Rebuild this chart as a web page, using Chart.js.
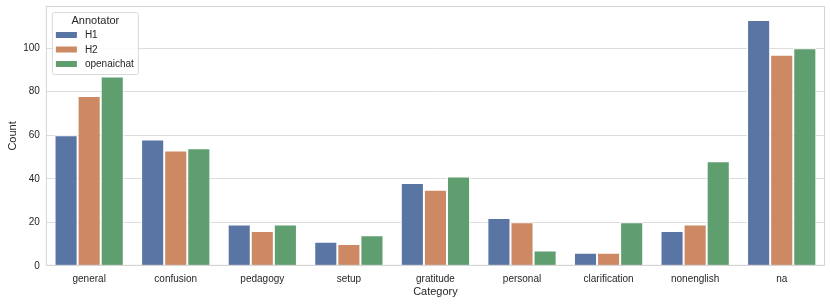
<!DOCTYPE html>
<html>
<head>
<meta charset="utf-8">
<script src="https://cdn.jsdelivr.net/npm/chart.js@4/dist/chart.umd.min.js"></script>
<style>
  html, body { margin: 0; padding: 0; background: #fff; }
  #wrap { width: 831px; height: 304px; }
</style>
</head>
<body>
<div id="wrap"><canvas id="annotChart" width="831" height="304"></canvas></div>
<script>
// Category counts per annotator
const categories = ['general', 'confusion', 'pedagogy', 'setup', 'gratitude', 'personal', 'clarification', 'nonenglish', 'na'];
const h1Counts = [60, 58, 19, 11, 38, 22, 6, 16, 113];
const h2Counts = [78, 53, 16, 10, 35, 20, 6, 19, 97];
const openaiCounts = [87, 54, 19, 14, 41, 7, 20, 48, 100];
const yTicks = [0, 20, 40, 60, 80, 100];

const FONT = '"Liberation Sans", Arial, sans-serif';
const GRID = '#dddddd';

// legend box + frame drawn by hand (seaborn style)
const framePlugin = {
    id: 'frame',
    afterDraw(chart) {
        const { ctx, chartArea: a } = chart;
        ctx.save();
        ctx.strokeStyle = '#d4d4d4';
        ctx.lineWidth = 1;
        ctx.strokeRect(a.left + 0.5, a.top + 0.5, a.right - a.left - 1, a.bottom - a.top - 1);

        // legend
        const x = a.left + 6, y = a.top + 6, w = 86, h = 62;
        ctx.fillStyle = 'rgba(255,255,255,0.85)';
        ctx.strokeStyle = '#d9d9d9';
        ctx.beginPath();
        ctx.roundRect(x + 0.5, y + 0.5, w, h, 2);
        ctx.fill();
        ctx.stroke();
        ctx.fillStyle = '#262626';
        ctx.font = '11px ' + FONT;
        ctx.textAlign = 'center';
        ctx.textBaseline = 'middle';
        ctx.fillText('Annotator', x + w / 2 + 0.5, y + 9);
        ctx.textAlign = 'left';
        ctx.font = '10px ' + FONT;
        chart.data.datasets.forEach((ds, i) => {
            const ry = y + 23 + i * 14.5;
            ctx.fillStyle = ds.backgroundColor;
            ctx.fillRect(x + 4, ry - 3, 21, 6);
            ctx.fillStyle = '#262626';
            ctx.fillText(ds.label, x + 33, ry + 0.5);
        });
        ctx.restore();
    }
};

const ctx = document.getElementById('annotChart').getContext('2d');
const annotChart = new Chart(ctx, {
    type: 'bar',
    data: {
        labels: categories,
        datasets: [
            { label: 'H1', data: h1Counts, backgroundColor: '#5975a4' },
            { label: 'H2', data: h2Counts, backgroundColor: '#cc8963' },
            { label: 'openaichat', data: openaiCounts, backgroundColor: '#5f9e6e' }
        ].map(d => Object.assign(d, {
            borderColor: '#ffffff',
            borderWidth: 1,
            categoryPercentage: 0.8,
            barPercentage: 1.0
        }))
    },
    options: {
        responsive: false,
        animation: false,
        layout: { padding: { left: 0, right: 6, top: 6, bottom: 5 } },
        plugins: {
            legend: { display: false },
            tooltip: { enabled: false }
        },
        scales: {
            x: {
                grid: { display: false, drawTicks: false },
                border: { display: false },
                ticks: { color: '#262626', font: { family: FONT, size: 10 }, padding: 7 },
                title: { display: true, text: 'Category', color: '#262626', font: { family: FONT, size: 11 }, padding: { top: -6, bottom: 0 } }
            },
            y: {
                min: 0,
                max: 119.4,
                afterBuildTicks(axis) {
                    axis.ticks = yTicks.map(v => ({ value: v }));
                },
                afterFit(axis) {
                    axis.paddingTop = 0;
                    axis.paddingBottom = 0;
                },
                grid: { color: GRID, drawTicks: false },
                border: { display: false },
                ticks: { color: '#262626', font: { family: FONT, size: 10 }, padding: 6 },
                title: { display: true, text: 'Count', color: '#262626', font: { family: FONT, size: 11 }, padding: { top: 6, bottom: -2 } }
            }
        }
    },
    plugins: [framePlugin]
});
</script>
</body>
</html>
